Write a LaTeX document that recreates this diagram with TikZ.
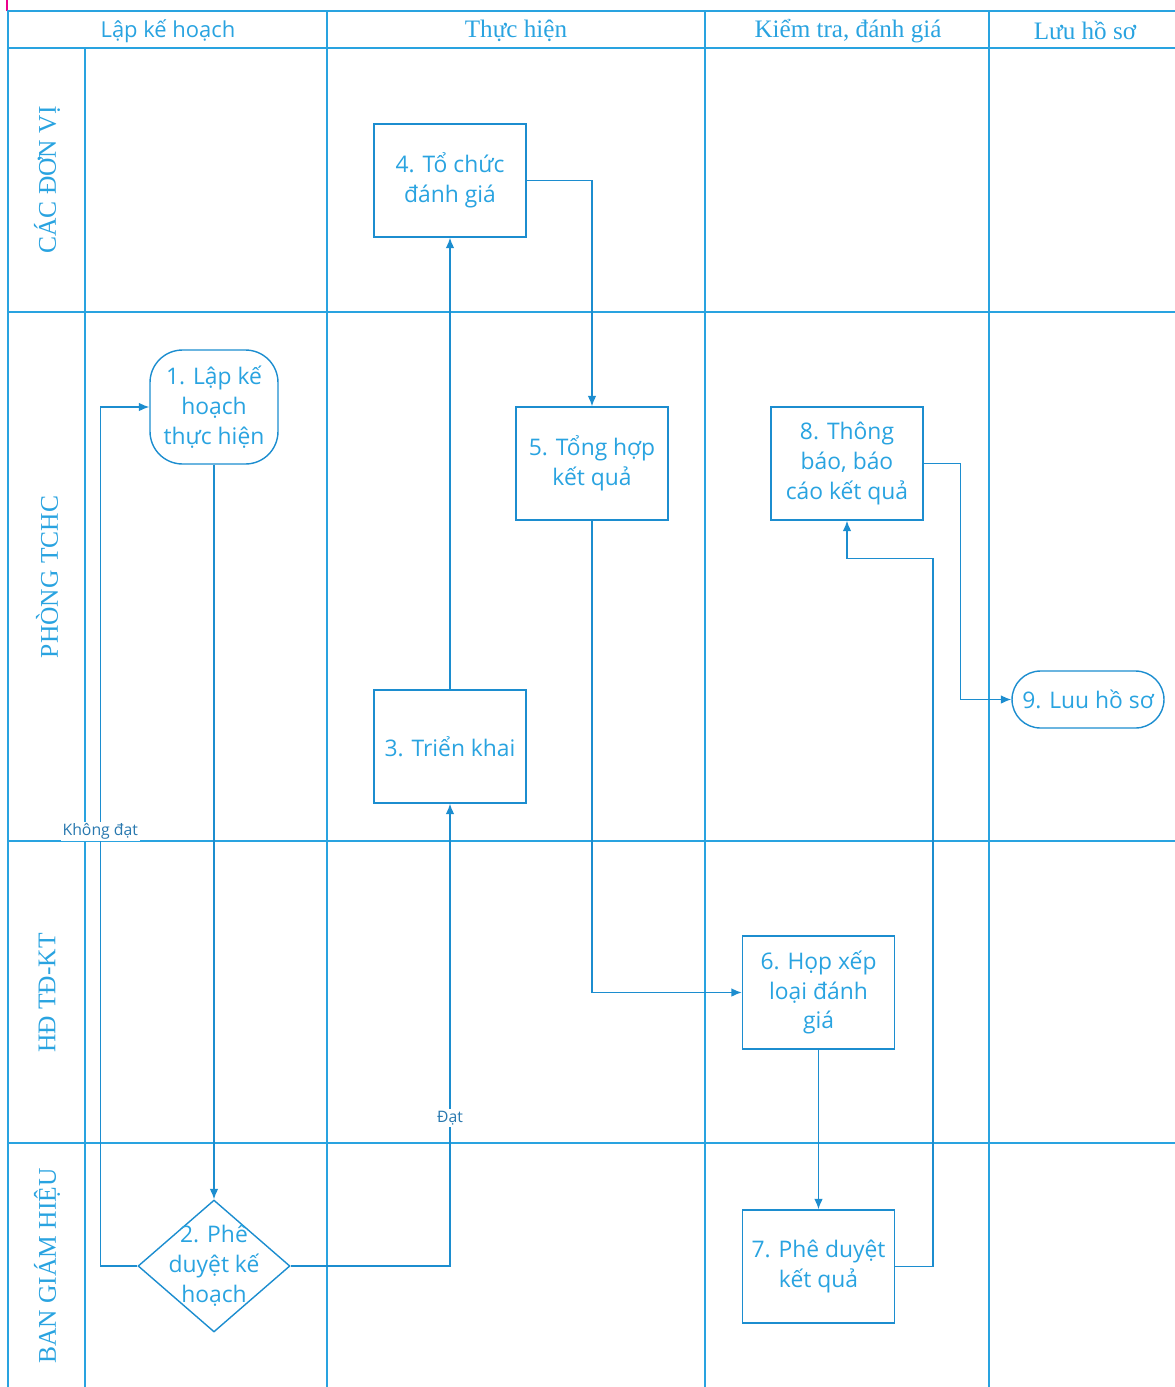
\documentclass[tikz,border=0pt]{standalone}
\usepackage{fontspec}
\setmainfont{Liberation Serif}
\newfontfamily\boxfont{Open Sans}
\usetikzlibrary{shapes.geometric, arrows.meta, calc}
\definecolor{lane}{RGB}{41,163,224}
\definecolor{flow}{RGB}{28,141,207}
\definecolor{tag}{RGB}{40,120,175}

\begin{document}
\begin{tikzpicture}[x=0.02cm, y=-0.02cm, >={Latex[length=6pt,width=5pt]},
    grid/.style={draw=lane, line width=1.1pt},
    head/.style={text=lane, font=\fontsize{14.3}{16}\selectfont},
    lanetitle/.style={text=lane, rotate=90, font=\fontsize{14.5}{16}\selectfont},
    box/.style={draw=flow, line width=0.8pt, text=lane, align=center,
        font=\boxfont\fontsize{13}{17}\selectfont},
    proc/.style={box, minimum width=3.04cm, minimum height=2.26cm},
    lbl/.style={fill=white, text=tag, inner sep=1pt, font=\boxfont\fontsize{9}{10}\selectfont},
    flowline/.style={draw=flow, line width=0.9pt, ->}]
    \useasboundingbox (0,0) rectangle (1175,1387);

    % swimlane grid
    \draw[magenta, line width=1pt] (7,0) -- (7,11);
    \draw[grid] (8,1387) -- (8,11) -- (1180,11);
    \draw[grid] (8,48) -- (1180,48);
    \draw[grid] (85,48) -- (85,1387);
    \foreach \x in {327, 705, 989}{\draw[grid] (\x,11) -- (\x,1387);}
    \foreach \y in {312, 841, 1143}{\draw[grid] (8,\y) -- (1180,\y);}

    \node[head, font=\boxfont\fontsize{12.5}{14}\selectfont](h1) at (168,31) {Lập kế hoạch};
    \node[head](h2) at (516,31) {Thực hiện};
    \node[head](h3) at (848,31) {Kiểm tra, đánh giá};
    \node[head](h4) at (1085,31) {Lưu hồ sơ};

    \node[lanetitle](l1) at (47,180) {CÁC ĐƠN VỊ};
    \node[lanetitle](l2) at (47,577) {PHÒNG TCHC};
    \node[lanetitle](l3) at (47,993) {HĐ TĐ-KT};
    \node[lanetitle](l4) at (47,1266) {BAN GIÁM HIỆU};

    % steps
    \node[box, rounded corners=0.65cm, minimum width=2.56cm, minimum height=2.28cm](1) at (214,407) {1. Lập kế\\hoạch\\thực hiện};
    \node[box, diamond, minimum width=3.04cm, minimum height=2.64cm](2) at (214,1266) {};
    \node[box, draw=none] at (2) {2. Phê\\duyệt kế\\hoạch};
    \node[proc](3) at (450,746.5) {3. Triển khai};
    \node[proc](4) at (450,180.5) {4. Tổ chức\\đánh giá};
    \node[proc](5) at (592,463.5) {5. Tổng hợp\\kết quả};
    \node[proc](6) at (818.5,992.5) {6. Họp xếp\\loại đánh\\giá};
    \node[proc](7) at (818.5,1266.5) {7. Phê duyệt\\kết quả};
    \node[proc](8) at (847,463.5) {8. Thông\\báo, báo\\cáo kết quả};
    \node[box, rounded corners=0.57cm, minimum width=3.04cm, minimum height=1.14cm](9) at (1088,699.5) {9. Luu hồ sơ};

    % flow
    \foreach \k/\l in {1/2, 3/4, 6/7}{\draw[flowline](\k)--(\l);}
    \draw[flowline](2.east) -| node[lbl, pos=0.66]{Đạt} (3.south);
    \draw[flowline](2.west) -- ++(-37,0) |- node[lbl, pos=0.253]{Không đạt} (1.west);
    \draw[flowline](4.east) -| (5.north);
    \draw[flowline](5.south) |- (6.west);
    \draw[flowline](7.east) -- ++(38,0) |- ($(8.south)+(0,38)$) -- (8.south);
    \draw[flowline](8.east) -- ++(37,0) |- (9.west);
\end{tikzpicture}
\end{document}
